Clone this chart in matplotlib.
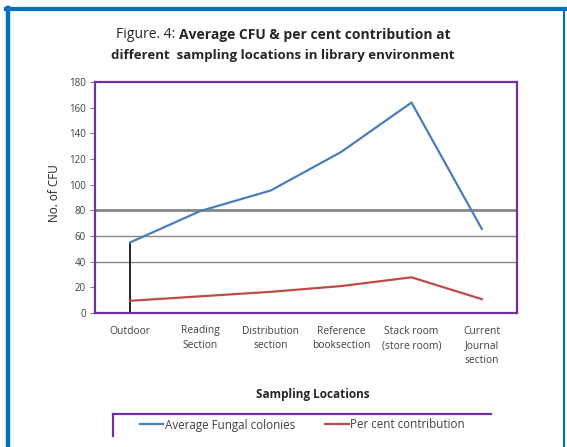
import matplotlib
matplotlib.use("Agg")
import matplotlib.pyplot as plt
from matplotlib.lines import Line2D
from matplotlib.offsetbox import TextArea, HPacker, AnchoredOffsetbox

# data
locations = ["Outdoor", "Reading\nSection", "Distribution\nsection",
             "Reference\nbooksection", "Stack room\n(store room)",
             "Current\nJournal\nsection"]
avg_cfu = [55, 79.5, 95.5, 125.5, 164, 65.5]
pct_contrib = [9.5, 13, 16.5, 21, 27.8, 10.8]
y_ticks = [0, 20, 40, 60, 80, 100, 120, 140, 160, 180]

PURPLE = "#7030A0"
FRAME_BLUE = "#0070C0"
TXT = "#262626"
FONT = ["Open Sans", "DejaVu Sans"]

plt.rcParams["font.family"] = FONT

fig = plt.figure(figsize=(5.67, 4.47), dpi=100)
ax = fig.add_axes([95 / 567, 1 - 313 / 447, 422 / 567, 231 / 447])

x = list(range(len(locations)))
ax.plot(x, avg_cfu, color="#4A7EBB", lw=1.6, label="Average Fungal colonies", zorder=3)
ax.plot(x, pct_contrib, color="#BE4B48", lw=1.6, label="Per cent contribution", zorder=3)
# drop line under the first point
ax.vlines(x[0], 0, avg_cfu[0], color="black", lw=1.2, zorder=2)

# only a few horizontal grid lines show in the original
for v, w in [(40, 1.0), (60, 1.0), (80, 2.0)]:
    ax.axhline(v, color="#868686", lw=w, zorder=1)

ax.set_xlim(-0.5, len(locations) - 0.5)
ax.set_ylim(0, 180)
ax.set_yticks(y_ticks)
ax.set_yticklabels([str(v) for v in y_ticks], fontsize=7, color="#404040")
ax.tick_params(axis="y", length=3.6, color="#868686", pad=3)
ax.set_xticks(x)
ax.set_xticklabels(locations, fontsize=7.4, color="#404040", linespacing=1.45, va="top")
ax.tick_params(axis="x", length=0, pad=9)

for s in ax.spines.values():
    s.set_color(PURPLE)
    s.set_linewidth(1.6)

ax.set_ylabel("No. of CFU", fontsize=8.5, color=TXT)
ax.yaxis.set_label_coords(-0.08, 0.52)
ax.set_xlabel("Sampling Locations", fontsize=8.5, fontweight="bold", color=TXT)
ax.xaxis.set_label_coords(0.517, -0.323)

# title: "Figure. 4:" in regular weight, the rest bold
t_a = TextArea("Figure. 4:", textprops=dict(fontsize=10, color=TXT))
t_b = TextArea("Average CFU & per cent contribution at",
               textprops=dict(fontsize=10, fontweight="bold", color=TXT))
line1 = HPacker(children=[t_a, t_b], align="baseline", pad=0, sep=3)
fig.add_artist(AnchoredOffsetbox(loc="center", child=line1, pad=0, borderpad=0, frameon=False,
                                 bbox_to_anchor=(283.5 / 567, 1 - 35 / 447),
                                 bbox_transform=fig.transFigure))
fig.text(283 / 567, 1 - 56 / 447, "different  sampling locations in library environment",
         ha="center", va="center", fontsize=9.5, fontweight="bold", color=TXT)

# legend, with its box running off the bottom of the image
handles = [Line2D([], [], color="#4A7EBB", lw=1.6), Line2D([], [], color="#BE4B48", lw=1.6)]
fig.legend(handles, ["Average Fungal colonies", "Per cent contribution"],
           loc="center left", bbox_to_anchor=(129 / 567, 1 - 425 / 447), ncol=2, frameon=False,
           fontsize=8.4, handlelength=2.0, handletextpad=0.15, columnspacing=2.6,
           labelcolor="#404040")
fig.add_artist(Line2D([113 / 567, 491 / 567], [1 - 414 / 447] * 2, color=PURPLE, lw=1.6))
fig.add_artist(Line2D([113 / 567] * 2, [1 - 414 / 447, 1 - 436 / 447], color=PURPLE, lw=1.6))

# outer blue frame
fig.add_artist(Line2D([8 / 567] * 2, [0, 1 - 8 / 447], color=FRAME_BLUE, lw=3.2))
fig.add_artist(Line2D([6 / 567, 565 / 567], [1 - 9 / 447] * 2, color=FRAME_BLUE, lw=3))
fig.add_artist(Line2D([564 / 567] * 2, [0, 1 - 8 / 447], color=FRAME_BLUE, lw=1.5))

fig.savefig("out.png", dpi=100)
